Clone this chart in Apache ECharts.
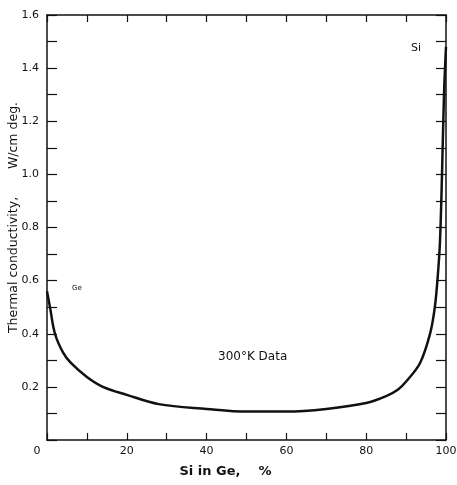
<!DOCTYPE html>
<html>
<head>
<meta charset="utf-8" />
<title>thermal conductivity</title>
<script src="https://cdn.jsdelivr.net/npm/echarts@6/dist/echarts.min.js"></script>
<style>
  html, body { margin: 0; padding: 0; background: #fff; }
  #main { width: 457px; height: 485px; }
</style>
</head>
<body>
<div id="main"></div>
<script>
// Si in Ge, %
var siPct = [0, 0.75, 2, 4, 6, 10, 14, 20, 28, 40, 50, 60, 70, 80, 85, 88, 90, 93.5, 96, 97.2, 98, 98.5, 99, 99.5, 100];
// thermal conductivity, W/cm deg
var kappa = [0.56, 0.50, 0.40, 0.33, 0.29, 0.237, 0.20, 0.17, 0.135, 0.117, 0.107, 0.107, 0.117, 0.139, 0.165, 0.19, 0.22, 0.29, 0.40, 0.50, 0.63, 0.75, 1.0, 1.3, 1.48];

var xLabels = [0, 20, 40, 60, 80, 100];
var yLabels = [0.2, 0.4, 0.6, 0.8, 1.0, 1.2, 1.4, 1.6];

var pts = siPct.map(function(x, i) { return [x, kappa[i]]; });
var ink = '#111';
var font = 'DejaVu Sans';

function frameAxis(extra) {
  var a = {
    axisLine: { onZero: false, lineStyle: { color: ink, width: 1.5 } },
    splitLine: { show: false }
  };
  for (var k in extra) a[k] = extra[k];
  return a;
}

var chart = echarts.init(document.getElementById('main'));
chart.setOption({
  animation: false,
  grid: { left: 47, right: 11, top: 15, bottom: 45, containLabel: false, outerBoundsMode: 'none' },
  xAxis: [frameAxis({
    type: 'value', min: 0, max: 100, interval: 10,
    axisTick: { inside: true, length: 7, lineStyle: { color: ink, width: 1.2 } },
    axisLabel: {
      color: ink, fontFamily: font, fontSize: 11, margin: 6,
      formatter: function(v) {
        if (v === 0) return '{z|0}';
        return xLabels.indexOf(v) >= 0 ? String(v) : '';
      },
      rich: { z: { fontFamily: font, fontSize: 11, color: ink, padding: [0, 20, 0, 0] } }
    },
    name: 'Si in Ge,    %', nameLocation: 'middle', nameGap: 25, nameMoveOverlap: false,
    nameTextStyle: { color: ink, fontFamily: font, fontSize: 13, fontWeight: 'bold', padding: [0, 42, 0, 0] }
  }), frameAxis({
    type: 'value', min: 0, max: 100, interval: 10, position: 'top',
    axisTick: { inside: true, length: 7, lineStyle: { color: ink, width: 1.2 } },
    axisLabel: { show: false }
  })],
  yAxis: [frameAxis({
    type: 'value', min: 0, max: 1.6, interval: 0.1,
    axisTick: { inside: true, length: 10, lineStyle: { color: ink, width: 1.2 } },
    axisLabel: {
      color: ink, fontFamily: font, fontSize: 11, margin: 8,
      formatter: function(v) {
        var r = Math.round(v * 10) / 10;
        return yLabels.indexOf(r) >= 0 ? r.toFixed(1) : '';
      }
    },
    name: 'Thermal conductivity,       W/cm deg.', nameLocation: 'middle', nameGap: 27, nameMoveOverlap: false,
    nameTextStyle: { color: ink, fontFamily: font, fontSize: 12.5, padding: [0, 0, 0, 20] }
  }), frameAxis({
    type: 'value', min: 0, max: 1.6, interval: 0.1, position: 'right',
    axisTick: { show: true, inside: true, length: 10, lineStyle: { color: ink, width: 1.2 } },
    axisLabel: { show: false }
  })],
  series: [{
    type: 'line', data: pts, smooth: 0.35,
    showSymbol: false, lineStyle: { color: ink, width: 2.5 },
    xAxisIndex: 0, yAxisIndex: 0
  }],
  graphic: [
    { type: 'text', left: 72, top: 285, style: { text: 'Ge', font: '7px ' + font, fill: ink } },
    { type: 'text', left: 411, top: 43, style: { text: 'Si', font: '11px ' + font, fill: ink } },
    { type: 'text', left: 218, top: 351, style: { text: '300°K Data', font: '12px ' + font, fill: ink } }
  ]
});
</script>
</body>
</html>
